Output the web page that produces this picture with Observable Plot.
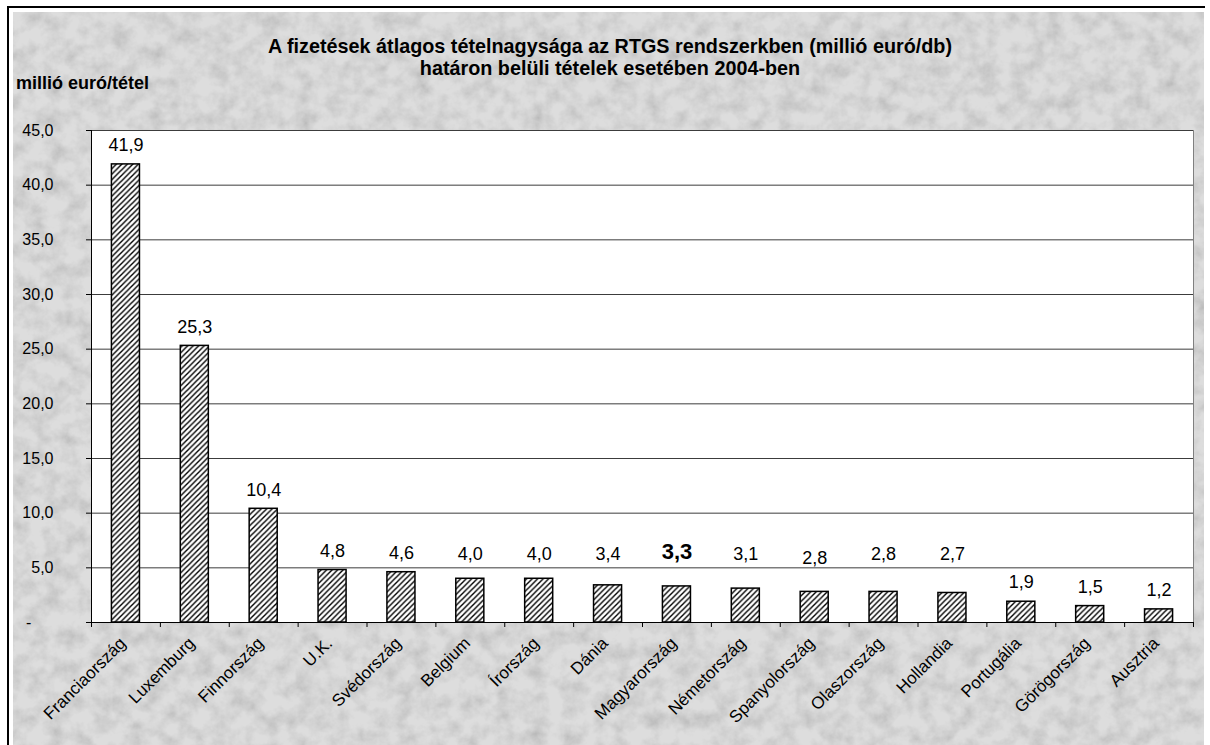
<!DOCTYPE html>
<html><head><meta charset="utf-8">
<script src="https://cdn.jsdelivr.net/npm/d3@7"></script>
<script src="https://cdn.jsdelivr.net/npm/@observablehq/plot@0.6"></script>
<style>
html,body{margin:0;padding:0;background:#fff;}
body{width:1210px;height:745px;overflow:hidden;font-family:Arial,"Liberation Sans",sans-serif;}
#wrap{position:relative;width:1210px;height:745px;}
#frame{position:absolute;left:7px;top:6px;width:1198px;height:739px;border-top:2px solid #000;border-left:2px solid #000;box-sizing:border-box;}
#bg{position:absolute;left:13px;top:12px;}
.title{position:absolute;left:0;width:1220px;text-align:center;font-weight:bold;font-size:19.8px;line-height:22px;white-space:nowrap;color:#000;}
#ylab{position:absolute;left:16px;top:73px;font-weight:bold;font-size:18px;line-height:20px;white-space:nowrap;color:#000;}
#chart{position:absolute;left:0;top:0;}
</style>
</head>
<body>
<div id="wrap">
  <div id="frame"></div>
  <svg id="bg" width="1191" height="733">
    <defs>
      <filter id="noise" x="0" y="0" width="100%" height="100%">
        <feTurbulence type="fractalNoise" baseFrequency="0.06" numOctaves="4" seed="11"/>
        <feColorMatrix type="matrix" values="1.1 0 0 0 0.28  1.1 0 0 0 0.28  1.1 0 0 0 0.28  0 0 0 0 1"/>
      </filter>
    </defs>
    <rect width="1191" height="733" fill="#cbcbcb"></rect>
    <rect width="1191" height="733" filter="url(#noise)" opacity="0.35"></rect>
  </svg>
  <div id="chart"></div>
  <div class="title" style="top:35px">A fizetések átlagos tételnagysága az RTGS rendszerkben (millió euró/db)</div>
  <div class="title" style="top:57px">határon belüli tételek esetében 2004-ben</div>
  <div id="ylab">millió euró/tétel</div>
</div>
<script>
const countries = ["Franciaország","Luxemburg","Finnország","U.K.","Svédország","Belgium","Írország","Dánia","Magyarország","Németország","Spanyolország","Olaszország","Hollandia","Portugália","Görögország","Ausztria"];
const values = [41.9, 25.3, 10.4, 4.8, 4.6, 4.0, 4.0, 3.4, 3.3, 3.1, 2.8, 2.8, 2.7, 1.9, 1.5, 1.2];
const yTicks = [0, 5, 10, 15, 20, 25, 30, 35, 40, 45];
const highlighted = "Magyarország";
const loweredLabel = "Spanyolország";

const data = countries.map((c, i) => ({country: c, value: values[i]}));
const W = 1210, H = 745, mL = 91, mR = 17, mT = 130, mB = 123;
const step = (W - mL - mR) / countries.length;
const fmt = v => v.toFixed(1).replace(".", ",");
const font = "Arial, 'Liberation Sans', sans-serif";

// label placement groups (as in the original: mid-sized labels lifted above the 5,0 gridline)
const gridRow = yTicks[1];
const isLifted = d => d.value > 2.5 && d.value < 4.5;
const normal = data.filter(d => !isLifted(d));
const lifted = data.filter(d => isLifted(d) && d.country !== highlighted && d.country !== loweredLabel);

const chart = Plot.plot({
  width: W, height: H,
  marginLeft: mL, marginRight: mR, marginTop: mT, marginBottom: mB,
  style: {background: "transparent", fontFamily: font, color: "#000", overflow: "visible"},
  x: {domain: countries, paddingInner: 0.593, paddingOuter: 0.2965, round: false, axis: null},
  y: {domain: [0, 45], axis: null},
  marks: [
    Plot.frame({fill: "white", stroke: "#808080"}),
    Plot.gridY(yTicks.slice(1), {stroke: "#3c3c3c", strokeOpacity: 1}),
    Plot.axisY(yTicks, {tickSize: 5, tickPadding: 33, fontSize: 16, stroke: "#000", label: null,
      tickFormat: v => v === 0 ? "-\u2007\u2007\u2008" : fmt(v)}),
    Plot.ruleX([countries[0]], {x: d => d, y1: 0, y2: 45, dx: -step / 2, stroke: "#000"}),
    Plot.ruleY([0], {stroke: "#000"}),
    Plot.ruleX(countries, {x: d => d, y1: 0, y2: 0, insetBottom: -5, dx: -step / 2, stroke: "#000"}),
    Plot.ruleX([countries[countries.length - 1]], {x: d => d, y1: 0, y2: 0, insetBottom: -5, dx: step / 2, stroke: "#000"}),
    Plot.barY(data, {x: "country", y: "value", fill: "white", stroke: "#000", strokeWidth: 1.5}),
    Plot.text(normal, {x: "country", y: "value", text: d => fmt(d.value), dy: -19, fontSize: 18}),
    Plot.text(lifted, {x: "country", y: () => gridRow, text: d => fmt(d.value), dy: -14, fontSize: 18}),
    Plot.text(data.filter(d => d.country === loweredLabel),
      {x: "country", y: () => gridRow, text: d => fmt(d.value), dy: -10, fontSize: 18}),
    Plot.text(data.filter(d => d.country === highlighted),
      {x: "country", y: () => gridRow, text: d => fmt(d.value), dy: -16, fontSize: 22, fontWeight: "bold"}),
    Plot.text(data, {x: "country", y: 0, text: "country", rotate: -45, textAnchor: "end", dx: -3, dy: 18, fontSize: 17})
  ]
});

const svg = d3.select(chart);
const defs = svg.insert("defs", ":first-child");
const pat = defs.append("pattern").attr("id", "hatch").attr("patternUnits", "userSpaceOnUse")
  .attr("width", 5.5).attr("height", 5.5);
pat.append("rect").attr("width", 5.5).attr("height", 5.5).attr("fill", "white");
pat.append("path").attr("d", "M-1,1L1,-1M0,5.5L5.5,0M4.5,6.5L6.5,4.5")
  .attr("stroke", "#000").attr("stroke-width", 1.4);
svg.selectAll("g[aria-label='bar']").attr("fill", "url(#hatch)");
svg.selectAll("g[aria-label='bar'] rect").attr("fill", "url(#hatch)");

document.getElementById("chart").appendChild(chart);
</script>
</body></html>
